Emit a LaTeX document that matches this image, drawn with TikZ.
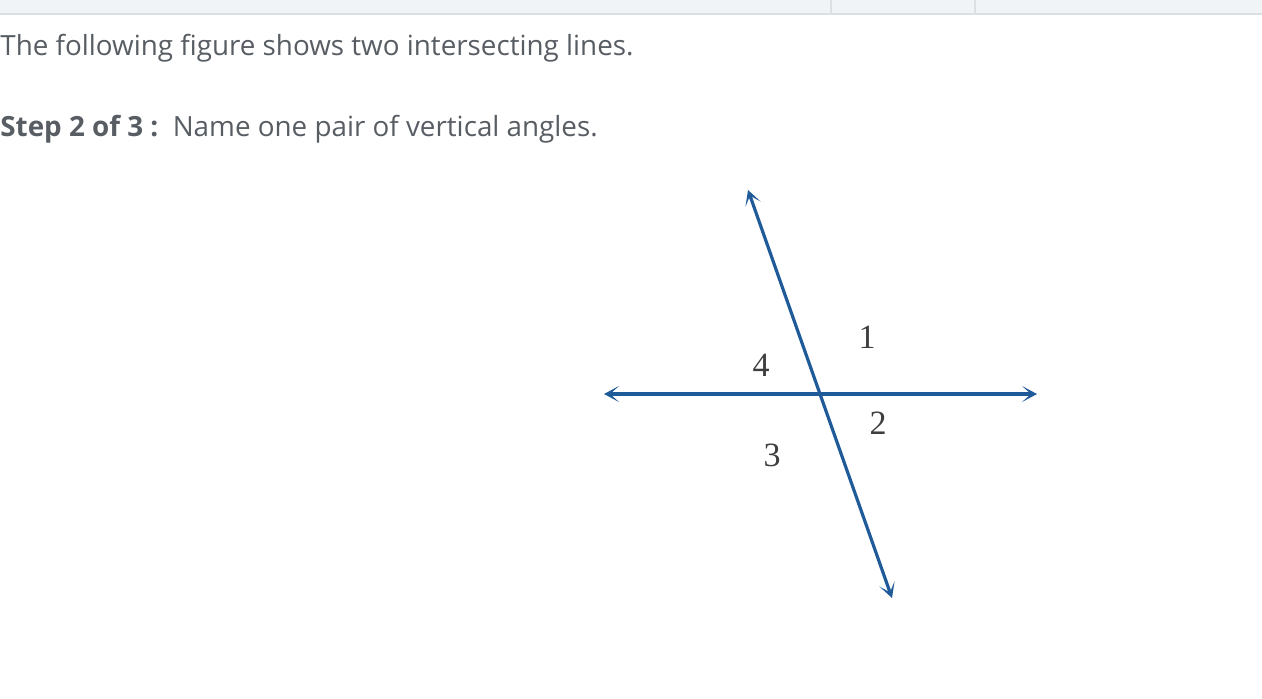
\documentclass[tikz,border=0pt]{standalone}
\usepackage{fontspec}
\setmainfont{Open Sans}
\newfontfamily\labelfont{Liberation Serif}
\usetikzlibrary{arrows.meta}
\definecolor{linecol}{HTML}{1F5A99}
\definecolor{textcol}{HTML}{575D63}
\definecolor{numcol}{HTML}{3E3E3E}
\definecolor{barcol}{HTML}{F1F4F7}
\definecolor{rulecol}{HTML}{DCDFE3}
\begin{document}
\begin{tikzpicture}[x=0.5pt,y=-0.5pt,
	prose/.style={anchor=base west,inner sep=0pt,text=textcol,font=\fontsize{13.9}{16}\selectfont},
	anglenum/.style={inner sep=0pt,text=numcol,font=\labelfont\fontsize{17}{17}\selectfont},
	ray/.style={draw=linecol,line width=1.6pt,{Stealth[length=7.5pt,width=8pt,inset=4.5pt]}-{Stealth[length=7.5pt,width=8pt,inset=4.5pt]}}]
\useasboundingbox (0,0) rectangle (1262,698);

% header strip
\fill[barcol] (0,0) rectangle (1262,14);
\draw[rulecol,line width=1pt] (0,14) -- (1262,14);
\foreach \x in {831, 975}
{
	\draw[rulecol,line width=0.8pt] (\x,0) -- (\x,14);
}

% question text
\path (0,55) node[prose] (intro) {The following figure shows two intersecting lines.};
\path (0,136) node[prose] (step) {\textbf{Step 2 of 3 :}\ \ Name one pair of vertical angles.};

% the two lines
\coordinate (hl) at (604,394);
\coordinate (hr) at (1037,394);
\coordinate (st) at (748,190);
\coordinate (sb) at (892,598);
\draw[ray] (hl) -- (hr);
\draw[ray] (st) -- (sb);

% angle numbers
\path (867,337) node[anglenum] (a1) {1};
\path (878,423) node[anglenum] (a2) {2};
\path (772,455) node[anglenum] (a3) {3};
\path (761,365) node[anglenum] (a4) {4};

\end{tikzpicture}
\end{document}
